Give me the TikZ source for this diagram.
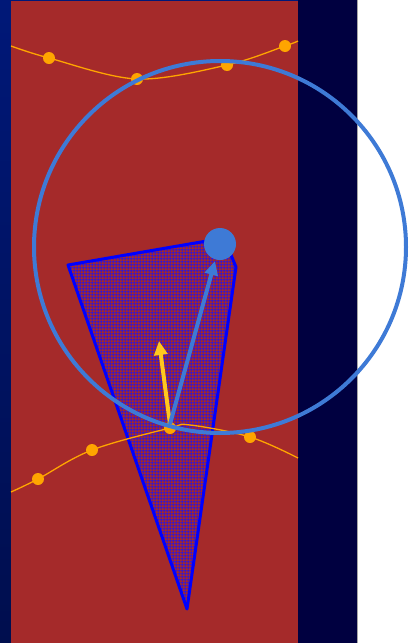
\documentclass[tikz,border=0pt]{standalone}
\usetikzlibrary{patterns.meta,arrows.meta}
\definecolor{bgred}{RGB}{165,42,42}
\definecolor{navyR}{RGB}{0,0,64}
\definecolor{navyTop}{RGB}{0,24,120}
\definecolor{navyBot}{RGB}{0,14,78}
\definecolor{ringblue}{RGB}{62,122,214}
\definecolor{curveorange}{RGB}{255,165,0}
\definecolor{arrowyellow}{RGB}{255,200,30}
\definecolor{hatchblue}{RGB}{40,20,230}
\tikzdeclarepattern{
  name=sparsegrid,
  type=uncolored,
  bounding box={(0,0) and (3.2pt,3.2pt)},
  tile size={(3.2pt,3.2pt)},
  code={
    \pgfsetlinewidth{1pt}
    \pgfpathmoveto{\pgfpoint{0pt}{1.6pt}}\pgfpathlineto{\pgfpoint{3.2pt}{1.6pt}}
    \pgfpathmoveto{\pgfpoint{1.6pt}{0pt}}\pgfpathlineto{\pgfpoint{1.6pt}{3.2pt}}
    \pgfusepath{stroke}
  }
}
\tikzset{
  curve/.style={curveorange, line width=1.3pt},
  curvedot/.style={circle, fill=curveorange, inner sep=0pt, minimum size=12pt},
  ring/.style={ringblue, line width=4pt},
  vec/.style={line width=4pt, -{Triangle[width=13pt,length=14pt]}},
  wedge/.style={draw=blue, line width=3pt, line join=round, pattern=sparsegrid, pattern color=hatchblue}
}
\begin{document}
\begin{tikzpicture}[x=1pt,y=-1pt]
\useasboundingbox (0,0) rectangle (415,643);
\fill[white] (0,0) rectangle (415,643);
% backgrounds
\shade[top color=navyTop, bottom color=navyBot] (0,0) rectangle (11,643);
\fill[navyTop] (0,0) rectangle (298,1);
\fill[navyR] (298,0) rectangle (357,643);
\fill[gray!70] (357,0) rectangle (358,643);
\fill[bgred] (11,1) rectangle (298,643);
% wedge
\draw[wedge] (68,265) -- (224,238) -- (236,267) -- (187,609) -- cycle;
% orange curves
\draw[curve] plot[smooth, tension=0.55] coordinates {(11,46) (49,58) (137,79) (227,65) (285,46) (298,41)};
\node[curvedot] (t1) at (49,58) {};
\node[curvedot] (t2) at (137,79) {};
\node[curvedot] (t3) at (227,65) {};
\node[curvedot] (t4) at (285,46) {};
\draw[curve] plot[smooth, tension=0.6] coordinates {(11,492) (38,479) (92,450) (170,428) (190,425) (250,437) (298,458)};
\node[curvedot] (b1) at (38,479) {};
\node[curvedot] (b2) at (92,450) {};
\node[curvedot] (b3) at (170,428) {};
\node[curvedot] (b4) at (250,437) {};
% vectors
\coordinate (o) at (170,424);
\coordinate (ytip) at (159,341);
\coordinate (btip) at (215,261);
\draw[vec, arrowyellow] (o) -- (ytip);
\draw[vec, ringblue] (o) -- (btip);
% ring and centre
\node[ring, draw, circle, minimum size=372pt, inner sep=0pt] (ring) at (220,247) {};
\node[circle, fill=ringblue, minimum size=32pt, inner sep=0pt] (c) at (220,244) {};
\end{tikzpicture}
\end{document}
